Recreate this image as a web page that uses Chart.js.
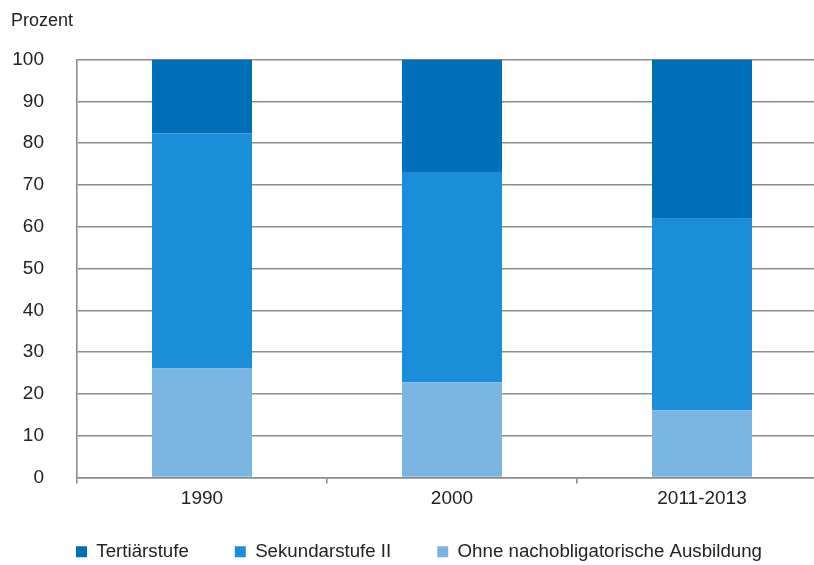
<!DOCTYPE html>
<html>
<head>
<meta charset="utf-8">
<script src="https://cdn.jsdelivr.net/npm/chart.js@4/dist/chart.umd.min.js"></script>
<style>
html,body{margin:0;padding:0;overflow:hidden;background:#fff;}
#wrap{width:830px;height:565px;}
</style>
</head>
<body>
<div id="wrap"><canvas id="c" width="830" height="565"></canvas></div>
<script>
const categories = ['1990', '2000', '2011-2013'];
const ohne = [26.1, 22.8, 16.1];
const sekundar = [56.2, 50.3, 45.8];
const tertiaer = [17.7, 26.9, 38.1];
const yTicks = [0, 10, 20, 30, 40, 50, 60, 70, 80, 90, 100];
const seriesNames = ['Ohne nachobligatorische Ausbildung', 'Sekundarstufe II', 'Tertiärstufe'];

const FONT = "'Liberation Sans', Arial, sans-serif";
const GRID = '#8c8c8c';
const TXT = '#222222';

// Keep the wide horizontal gap between legend items while using less vertical room.
const legendAdjust = {
  id: 'legendAdjust',
  afterInit(chart) {
    const lg = chart.legend;
    if (!lg) return;
    const fit = lg.fit.bind(lg);
    lg.fit = function () { fit(); this.height -= 24; };
    const draw = lg.draw.bind(lg);
    lg.draw = function (a) {
      const t = this.top;
      this.top = t - 18;
      draw(a);
      this.top = t;
    };
  }
};

new Chart(document.getElementById('c'), {
  type: 'bar',
  data: {
    labels: categories,
    datasets: [
      {label: seriesNames[0], data: ohne, backgroundColor: '#7bb6e3'},
      {label: seriesNames[1], data: sekundar, backgroundColor: '#1a8ed8'},
      {label: seriesNames[2], data: tertiaer, backgroundColor: '#006fba'}
    ]
  },
  plugins: [legendAdjust],
  options: {
    responsive: false,
    animation: false,
    datasets: {bar: {barPercentage: 0.4, categoryPercentage: 1.0, borderWidth: 0}},
    layout: {padding: {left: 11, right: 3, top: 0, bottom: 0}},
    plugins: {
      title: {
        display: true, text: 'Prozent', align: 'start', color: TXT,
        font: {family: FONT, size: 18, weight: 'normal'},
        padding: {top: 10, bottom: 28}
      },
      legend: {
        position: 'bottom', reverse: true,
        labels: {
          color: TXT, boxWidth: 11, boxHeight: 11, padding: 46,
          font: {family: FONT, size: 18.7}
        }
      },
      tooltip: {enabled: false}
    },
    scales: {
      x: {
        stacked: true,
        offset: true,
        grid: {offset: true, drawOnChartArea: false, drawTicks: true, tickLength: 6, color: GRID, lineWidth: 1.6},
        border: {display: true, color: GRID, width: 1.6},
        ticks: {color: TXT, font: {family: FONT, size: 19}, padding: 4}
      },
      y: {
        stacked: true,
        min: 0, max: 100,
        afterBuildTicks: (axis) => { axis.ticks = yTicks.map(v => ({value: v})); },
        afterFit: (axis) => { axis.width = 66; },
        grid: {color: GRID, lineWidth: 1.6, drawTicks: false},
        border: {display: true, color: GRID, width: 1.6},
        ticks: {color: TXT, font: {family: FONT, size: 19}, padding: 33}
      }
    }
  }
});
</script>
</body>
</html>
